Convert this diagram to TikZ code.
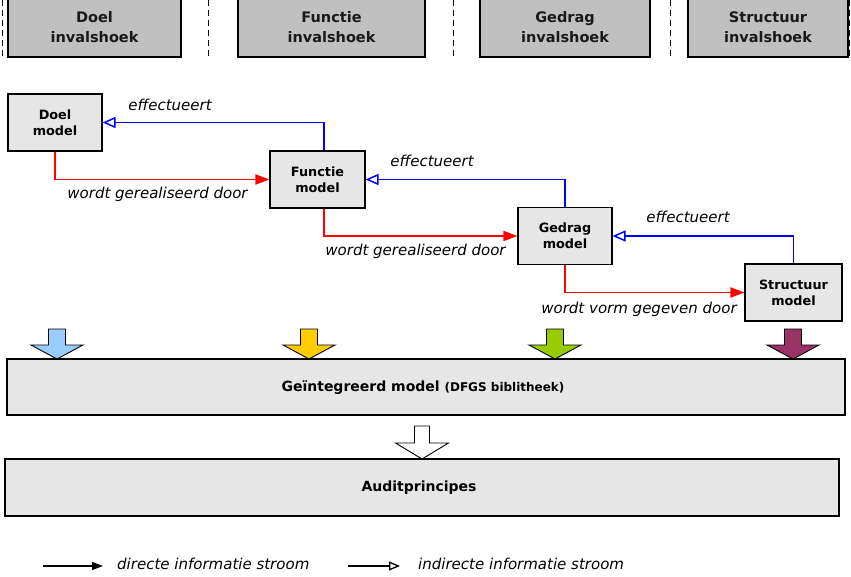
\documentclass[tikz,border=0pt]{standalone}
\usepackage{fontspec}
\setmainfont{DejaVu Sans}
\usetikzlibrary{arrows.meta}
\definecolor{hdrgray}{HTML}{C0C0C0}
\definecolor{boxgray}{HTML}{E6E6E6}
\definecolor{arrblue}{HTML}{99CCFF}
\definecolor{arryellow}{HTML}{FFCC00}
\definecolor{arrgreen}{HTML}{99CC00}
\definecolor{arrpurple}{HTML}{993366}
\definecolor{linkblue}{HTML}{0000FF}
\definecolor{linkred}{HTML}{FF0000}
\tikzset{
  hdrbox/.style={draw=black, line width=1.2pt, fill=hdrgray, inner sep=0pt, align=center,
    font=\fontsize{14.5}{20}\selectfont\bfseries, text=black!90},
  modelbox/.style={draw=black, line width=1.1pt, fill=boxgray, inner sep=0pt, align=center,
    font=\fontsize{12.8}{16}\selectfont\bfseries},
  widebox/.style={draw=black, line width=1.1pt, fill=boxgray, inner sep=0pt},
  sepline/.style={dash pattern=on 6pt off 4pt, line width=1pt},
  realise/.style={linkred, line width=1.8pt, -{Triangle[length=14pt,width=10pt]}},
  effect/.style={linkblue, line width=1.8pt, -{Triangle[open,length=13pt,width=11pt,line width=1.5pt]}},
  lbl/.style={font=\fontsize{15}{18}\selectfont\itshape, inner sep=0pt, anchor=base},
  pics/blockarrow/.style={code={
    \draw[fill=#1, line width=0.9pt] (-8.5,0) -- (8.5,0) -- (8.5,16) -- (26,16) -- (0,30)
      -- (-26,16) -- (-8.5,16) -- cycle;}},
  pics/whitearrow/.style={code={
    \draw[fill=white, line width=0.9pt] (-7.5,0) -- (7.5,0) -- (7.5,17) -- (26.5,17) -- (0,33)
      -- (-26.5,17) -- (-7.5,17) -- cycle;}}
}
\begin{document}
\begin{tikzpicture}[x=1pt, y=-1pt]
\useasboundingbox (0,0) rectangle (851,577);

% header boxes
\node[hdrbox, minimum width=173, minimum height=59] (hd) at (94.5,27.5) {Doel\\invalshoek};
\node[hdrbox, minimum width=187, minimum height=59] (hf) at (331.5,27.5) {Functie\\invalshoek};
\node[hdrbox, minimum width=170, minimum height=59] (hg) at (565,27.5) {Gedrag\\invalshoek};
\node[hdrbox, minimum width=160, minimum height=59] (hs) at (768,27.5) {Structuur\\invalshoek};

% dashed separators
\foreach \xx in {2,208,453,670,849}{
  \draw[sepline] (\xx,0) -- (\xx,58);
}

% model boxes
\node[modelbox, minimum width=94, minimum height=57] (d) at (55,122.5) {Doel\\model};
\node[modelbox, minimum width=95, minimum height=57] (f) at (317.5,179.5) {Functie\\model};
\node[modelbox, minimum width=94, minimum height=57] (g) at (565,236) {Gedrag\\model};
\node[modelbox, minimum width=97, minimum height=57] (s) at (793.5,292.5) {Structuur\\model};

% red connectors
\draw[realise] (d.south) |- (f.west);
\draw[realise] ([xshift=6.5pt]f.south) |- (g.west);
\draw[realise] (g.south) |- (s.west);

% blue connectors
\draw[effect] ([xshift=6.5pt]f.north) |- (d.east);
\draw[effect] (g.north) |- (f.east);
\draw[effect] (s.north) |- (g.east);

% labels
\node[lbl] (e1) at (170,111) {effectueert};
\node[lbl] (e2) at (432,167) {effectueert};
\node[lbl] (e3) at (688,223) {effectueert};
\node[lbl] (w1) at (157.5,199) {wordt gerealiseerd door};
\node[lbl] (w2) at (415.5,256) {wordt gerealiseerd door};
\node[lbl] (w3) at (639,313) {wordt vorm gegeven door};

% block arrows
\pic at (57,329) {blockarrow=arrblue};
\pic at (309,329) {blockarrow=arryellow};
\pic at (555,329) {blockarrow=arrgreen};
\pic at (793,329) {blockarrow=arrpurple};

% integrated model
\node[widebox, minimum width=838, minimum height=56] (im) at (426,387) {};
\node[inner sep=0pt, anchor=base] (imt) at (423,391)
  {\fontsize{14}{16}\selectfont\bfseries Geïntegreerd model {\fontsize{12}{13}\selectfont (DFGS biblitheek)}};

\pic at (422,426) {whitearrow};

% audit
\node[widebox, minimum width=834, minimum height=57] (au) at (422,487.5) {};
\node[inner sep=0pt, anchor=base] (aut) at (419,491) {\fontsize{14}{16}\selectfont\bfseries Auditprincipes};

% legend
\coordinate (l1a) at (43,566);
\coordinate (l1b) at (103,566);
\coordinate (l2a) at (348,566);
\coordinate (l2b) at (400,566);
\draw[line width=1.4pt, -{Triangle[length=11pt,width=8pt]}] (l1a) -- (l1b);
\draw[line width=1.4pt, -{Triangle[open,length=11pt,width=9pt,line width=1.3pt]}] (l2a) -- (l2b);
\node[lbl, anchor=base west] (lt1) at (117,569) {directe informatie stroom};
\node[lbl, anchor=base west] (lt2) at (418,569) {indirecte informatie stroom};
\end{tikzpicture}
\end{document}
